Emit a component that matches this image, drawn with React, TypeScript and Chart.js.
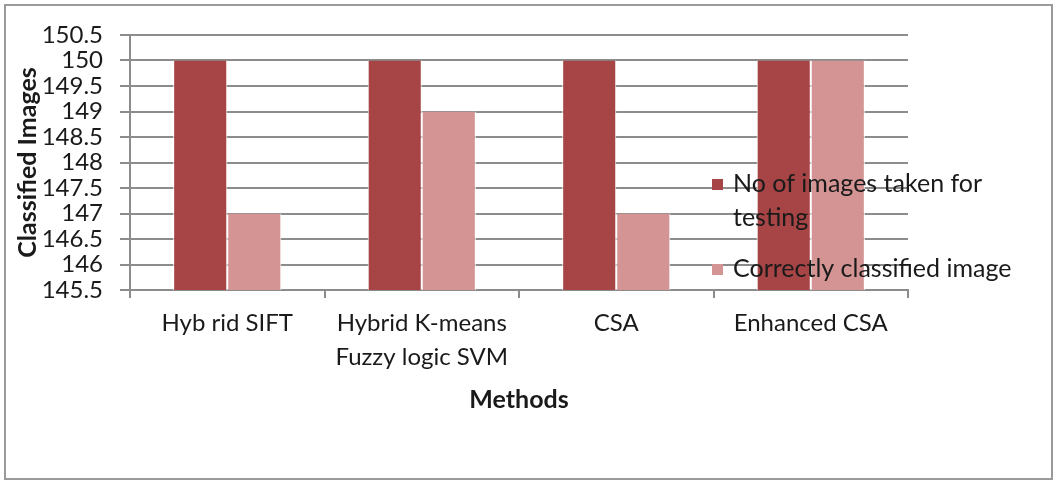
import React, { useEffect, useRef } from "react";
import { Chart, registerables } from "chart.js";

Chart.register(...registerables);

const categories: (string | string[])[] = [
  "Hyb rid SIFT",
  ["Hybrid K-means", "Fuzzy logic SVM"],
  "CSA",
  "Enhanced CSA",
];
const seriesNames = ["No of images taken for testing", "Correctly classified image"];
const testedValues = [150, 150, 150, 150];
const correctValues = [147, 149, 147, 150];
const seriesColors = ["#A74446", "#D39493"];
const yMin = 145.5;
const yMax = 150.5;
const yStep = 0.5;
const xTitle = "Methods";
const yTitle = "Classified Images";

const FONT = "Lato";
const TEXT = "#1a1a1a";
const GRID = "#8c8c8c";

const framePlugin = {
  id: "frame",
  beforeDraw(chart: any) {
    const ctx = chart.ctx;
    ctx.save();
    ctx.fillStyle = "#ffffff";
    ctx.fillRect(0, 0, chart.width, chart.height);
    ctx.strokeStyle = "#9a9a9a";
    ctx.lineWidth = 2;
    ctx.strokeRect(5, 5, chart.width - 11, chart.height - 11);
    ctx.restore();
  },
};

const legendPlugin = {
  id: "sideLegend",
  afterDatasetsDraw(chart: any) {
    const ctx = chart.ctx;
    ctx.save();
    ctx.font = `25px ${FONT}`;
    ctx.textBaseline = "middle";
    ctx.textAlign = "left";
    const boxX = 712;
    const textX = 733;
    const maxW = 300;
    const lineH = 34;
    let y = 184;
    chart.data.datasets.forEach((ds: any) => {
      const words = String(ds.label).split(" ");
      const lines: string[] = [];
      let cur = "";
      words.forEach((w) => {
        const t = cur ? cur + " " + w : w;
        if (ctx.measureText(t).width > maxW && cur) {
          lines.push(cur);
          cur = w;
        } else cur = t;
      });
      if (cur) lines.push(cur);
      ctx.fillStyle = ds.backgroundColor;
      ctx.fillRect(boxX, y - 5, 11, 11);
      ctx.fillStyle = TEXT;
      lines.forEach((ln, k) => ctx.fillText(ln, textX, y + k * lineH));
      y += lines.length * lineH + 17;
    });
    ctx.restore();
  },
};

export default function App() {
  const ref = useRef<HTMLCanvasElement | null>(null);
  useEffect(() => {
    document.body.style.margin = "0";
    if (!ref.current) return;
    const chart = new Chart(ref.current, {
      type: "bar",
      data: {
        labels: categories,
        datasets: [
          {
            label: seriesNames[0],
            data: testedValues,
            backgroundColor: seriesColors[0],
            borderColor: "#ffffff",
            borderWidth: { left: 1, right: 1, top: 0, bottom: 0 },
            borderSkipped: false,
          },
          {
            label: seriesNames[1],
            data: correctValues,
            backgroundColor: seriesColors[1],
            borderColor: "#ffffff",
            borderWidth: { left: 1, right: 1, top: 0, bottom: 0 },
            borderSkipped: false,
          },
        ],
      },
      options: {
        responsive: false,
        animation: false,
        devicePixelRatio: 1,
        layout: { padding: { left: 0, top: 35, right: 150, bottom: 70 } },
        plugins: {
          legend: { display: false },
          tooltip: { enabled: false },
        },
        datasets: {
          bar: { categoryPercentage: 0.556, barPercentage: 1.0 },
        },
        scales: {
          x: {
            afterFit(scale: any) {
              scale.height = 125;
            },
            grid: {
              offset: true,
              drawOnChartArea: false,
              drawTicks: true,
              tickLength: 8,
              color: GRID,
              lineWidth: 2,
            },
            border: { display: true, color: GRID, width: 2 },
            ticks: {
              color: TEXT,
              padding: 8,
              maxRotation: 0,
              autoSkip: false,
              font: { family: FONT, size: 24, lineHeight: 1.42 },
            },
            title: {
              display: true,
              text: xTitle,
              color: TEXT,
              padding: 0,
              font: { family: FONT, size: 25, weight: "bold", lineHeight: 1.2 },
            },
          },
          y: {
            min: yMin,
            max: yMax,
            afterFit(scale: any) {
              scale.width = 130;
            },
            grid: {
              color: GRID,
              lineWidth: 2,
              drawTicks: true,
              tickLength: 10,
            },
            border: { display: true, color: GRID, width: 2 },
            ticks: {
              stepSize: yStep,
              autoSkip: false,
              color: TEXT,
              padding: 17,
              callback: (v: any) => String(Math.round(Number(v) * 10) / 10),
              font: { family: FONT, size: 24, lineHeight: 1.0 },
            },
            title: {
              display: true,
              text: yTitle,
              color: TEXT,
              padding: { top: 13, bottom: 0 },
              font: { family: FONT, size: 25, weight: "bold", lineHeight: 1.2 },
            },
          },
        },
      } as any,
      plugins: [framePlugin, legendPlugin],
    });
    return () => chart.destroy();
  }, []);
  return <canvas ref={ref} width={1058} height={485} style={{ display: "block" }} />;
}
